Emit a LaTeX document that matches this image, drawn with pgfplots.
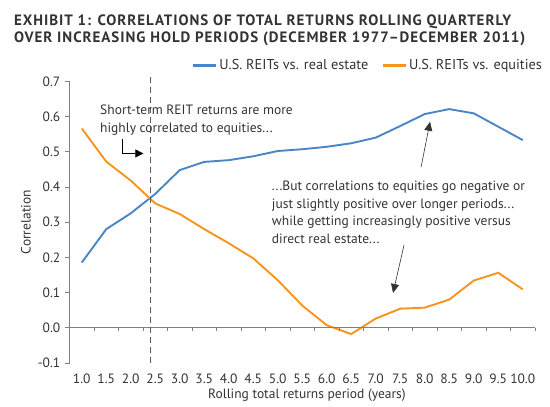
\documentclass[border=0pt]{standalone}
\usepackage{pgfplots}
\pgfplotsset{compat=1.18}
\usepackage{fontspec}
\setmainfont{PT Sans}
\newfontfamily\titlefont{PT Sans}[LetterSpace=6.4]
\usetikzlibrary{arrows.meta}
\definecolor{reitblue}{RGB}{74,134,198}
\definecolor{reitorange}{RGB}{247,148,29}
\definecolor{txt}{RGB}{51,51,51}
\definecolor{axgray}{RGB}{128,128,128}
\begin{document}
\begin{tikzpicture}
\useasboundingbox (0bp,0bp) rectangle (550bp,-407bp);
\node[anchor=base west, inner sep=0pt, text=txt, font=\titlefont\bfseries\fontsize{15bp}{17bp}\selectfont] at (14bp,-25.7bp) {EXHIBIT 1: CORRELATIONS OF TOTAL RETURNS ROLLING QUARTERLY};
\node[anchor=base west, inner sep=0pt, text=txt, font=\titlefont\bfseries\fontsize{15bp}{17bp}\selectfont] at (14bp,-42.7bp) {OVER INCREASING HOLD PERIODS (DECEMBER 1977–DECEMBER 2011)};
\begin{axis}[
  at={(69.5bp,-362.9bp)}, anchor=south west,
  scale only axis, width=465.5bp, height=281.6bp,
  xmin=0.75, xmax=10.25, ymin=-0.1, ymax=0.7,
  clip=false,
  axis line style={draw=none},
  font=\fontsize{13.5bp}{16bp}\selectfont,
  every tick label/.append style={text=txt},
  xtick={1,1.5,2,2.5,3,3.5,4,4.5,5,5.5,6,6.5,7,7.5,8,8.5,9,9.5,10},
  xticklabels={1.0,1.5,2.0,2.5,3.0,3.5,4.0,4.5,5.0,5.5,6.0,6.5,7.0,7.5,8.0,8.5,9.0,9.5,10.0},
  major x tick style={draw=none},
  xticklabel style={anchor=base, yshift=-15.4bp},
  ytick={-0.1,0,0.1,0.2,0.3,0.4,0.5,0.6,0.7},
  yticklabels={-0.1,0.0,0.1,0.2,0.3,0.4,0.5,0.6,0.7},
  ytick pos=left, tick align=outside,
  major tick length=5bp,
  major y tick style={axgray, line width=0.8bp},
  yticklabel style={anchor=east, inner sep=0pt, xshift=-4bp},
  xlabel={Rolling total returns period (years)},
  xlabel style={at={(axis description cs:0.51,-0.127)}, anchor=base, text=txt, inner sep=0pt},
  ylabel={Correlation},
  ylabel style={at={(axis description cs:-0.0934,0.5)}, anchor=center, text=txt, inner sep=0pt},
  legend columns=2,
  legend style={at={(axis description cs:1.026,1.02)}, anchor=south east, draw=none, fill=none,
    font=\fontsize{14.3bp}{16bp}\selectfont, text=txt,
    /tikz/every even column/.append style={column sep=11bp}},
  legend image code/.code={\draw[#1, line width=2.8bp] (0bp,0bp) -- (23bp,0bp);},
]
\addplot[reitblue, line width=1.9bp] coordinates {
(1.0,0.185)(1.5,0.28)(2.0,0.325)(2.5,0.38)(3.0,0.448)(3.5,0.471)(4.0,0.476)(4.5,0.487)(5.0,0.502)(5.5,0.507)(6.0,0.514)(6.5,0.524)(7.0,0.54)(7.5,0.573)(8.0,0.607)(8.5,0.621)(9.0,0.609)(9.5,0.571)(10.0,0.533)};
\addlegendentry{U.S. REITs vs. real estate}
\addplot[reitorange, line width=1.9bp] coordinates {
(1.0,0.566)(1.5,0.472)(2.0,0.418)(2.5,0.353)(3.0,0.323)(3.5,0.28)(4.0,0.24)(4.5,0.197)(5.0,0.135)(5.5,0.063)(6.0,0.007)(6.5,-0.018)(7.0,0.026)(7.5,0.054)(8.0,0.057)(8.5,0.08)(9.0,0.134)(9.5,0.156)(10.0,0.109)};
\addlegendentry{U.S. REITs vs. equities}
% axes lines
\draw[axgray, line width=0.8bp] (axis cs:0.75,-0.1) -- (axis cs:0.75,0.7);
\draw[axgray, line width=0.8bp] (axis cs:0.75,0) -- (axis cs:10.25,0);
\pgfplotsinvokeforeach{1.25,1.75,2.25,2.75,3.25,3.75,4.25,4.75,5.25,5.75,6.25,6.75,7.25,7.75,8.25,8.75,9.25,9.75,10.25}{
  \draw[axgray, line width=0.8bp] (axis cs:#1,0) -- ++(0bp,-3.5bp);
}
% dashed marker line
\draw[txt!80, line width=0.7bp, dash pattern=on 6bp off 4bp] (axis cs:2.394,-0.1) -- (axis cs:2.394,0.718);
% annotations
\node[anchor=base west, inner sep=0pt, text=txt] at (axis cs:1.373,0.605) {Short-term REIT returns are more};
\node[anchor=base west, inner sep=0pt, text=txt] at (axis cs:1.373,0.5545) {highly correlated to equities...};
\draw[black, line width=0.6bp, -{Triangle[length=8bp,width=8bp]}] (axis cs:1.829,0.536) |- (axis cs:2.257,0.495);
\node[anchor=base west, inner sep=0pt, text=txt] at (axis cs:4.878,0.389) {...But correlations to equities go negative or};
\node[anchor=base west, inner sep=0pt, text=txt] at (axis cs:4.878,0.3395) {just slightly positive over longer periods...};
\node[anchor=base west, inner sep=0pt, text=txt] at (axis cs:4.878,0.2898) {while getting increasingly positive versus};
\node[anchor=base west, inner sep=0pt, text=txt] at (axis cs:4.878,0.240) {direct real estate...};
\draw[txt, line width=0.6bp, -{Triangle[length=9bp,width=8bp]}] (axis cs:7.925,0.4565) -- (axis cs:8.108,0.585);
\draw[txt, line width=0.6bp, -{Triangle[length=9bp,width=8bp]}] (axis cs:7.577,0.235) -- (axis cs:7.353,0.0986);
\end{axis}
\end{tikzpicture}
\end{document}
